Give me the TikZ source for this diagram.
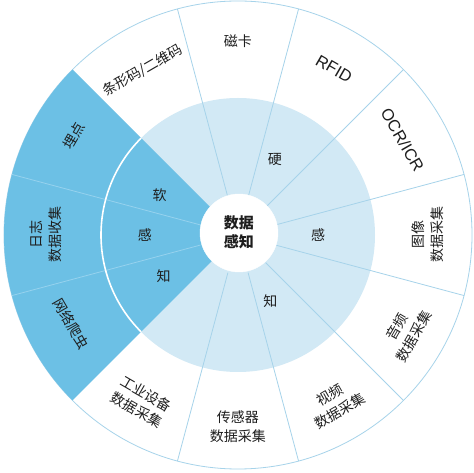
\documentclass[tikz,border=0pt]{standalone}
\usepackage{fontspec}
\setmainfont{Noto Sans CJK SC}
\newfontfamily\latinfont{Liberation Sans}
\usepackage{tikz}
\usetikzlibrary{calc}
\definecolor{skyblue}{RGB}{108, 192, 229}
\definecolor{paleblue}{RGB}{210, 233, 245}
\definecolor{lineblue}{RGB}{166, 211, 234}
\definecolor{softline}{RGB}{150, 210, 238}
\definecolor{textgray}{RGB}{30, 30, 30}
\tikzset{
    outerlabel/.style={text=textgray, font=\fontsize{14}{19}\selectfont, align=center, inner sep=0pt},
    latinlabel/.style={text=textgray, font=\latinfont\fontsize{16.5}{19}\selectfont, inner sep=0pt},
    innerlabel/.style={text=textgray, font=\fontsize{14}{17}\selectfont, inner sep=0pt},
    spoke/.style={color=lineblue, line width=0.8pt},
    softspoke/.style={color=softline, line width=0.8pt}
}
\begin{document}
\begin{tikzpicture}[x=1pt, y=1pt]
            \useasboundingbox (-238,-238) rectangle (236,235);
            \fill[white]                                    (-238,-238) rectangle (236,235);
            % outer ring
            \filldraw[color=lineblue, fill=white, line width=0.8pt] (0,0) circle (234);
            \fill[skyblue]                                  (0,0) -- (135:234) arc (135:225:234) -- cycle;
            % inner ring
            \fill[paleblue]                                 (0,0) circle (137);
            \fill[skyblue]                                  (0,0) -- (135:137) arc (135:225:137) -- cycle;
            % spokes
            \draw[spoke]                                    ( 15:39) -- ( 15:234);
            \draw[spoke]                                    ( 45:39) -- ( 45:234);
            \draw[spoke]                                    ( 75:39) -- ( 75:234);
            \draw[spoke]                                    (105:39) -- (105:234);
            \draw[spoke]                                    (255:39) -- (255:234);
            \draw[spoke]                                    (285:39) -- (285:234);
            \draw[spoke]                                    (315:39) -- (315:234);
            \draw[spoke]                                    (345:39) -- (345:234);
            \draw[softspoke]                                (165:39) -- (165:234);
            \draw[softspoke]                                (195:39) -- (195:234);
            \draw[color=white, line width=1.6pt]            (135:137) arc (135:225:137);
            % centre
            \filldraw[color=white, fill=white]              (1,2) circle (39);
            \node[text=textgray, font=\fontsize{15}{19}\selectfont\bfseries, align=center, inner sep=0pt]
                 (centre) at (1,3) {数据\\感知};
            % inner labels
            \node[innerlabel] (ying)  at ( 64:84) {硬};
            \node[innerlabel] (gan)   at (  0:80) {感};
            \node[innerlabel] (zhi)   at (-64:74) {知};
            \node[innerlabel] (ruan)  at (153:88) {软};
            \node[innerlabel] (gan2)  at (180:93) {感};
            \node[innerlabel] (zhi2)  at (209:85) {知};
            % outer labels
            \node[outerlabel, rotate=0]   (cika)       at ( 90:194) {磁卡};
            \node[latinlabel, rotate=-30] (rfid)       at ( 60:192) {RFID};
            \node[latinlabel, rotate=-60] (ocr)        at ( 30:190) {OCR/ICR};
            \node[outerlabel, rotate=90]  (tuxiang)    at (  0:190) {图像\\数据采集};
            \node[outerlabel, rotate=60]  (yinpin)     at (-30:193) {音频\\数据采集};
            \node[outerlabel, rotate=30]  (shipin)     at (-60:194) {视频\\数据采集};
            \node[outerlabel, rotate=0]   (chuangan)   at (-90:192) {传感器\\数据采集};
            \node[outerlabel, rotate=-30] (gongye)     at (240:193) {工业设备\\数据采集};
            \node[outerlabel, rotate=-60] (pachong)    at (208:189) {网络爬虫};
            \node[outerlabel, rotate=90]  (rizhi)      at (180:192) {日志\\数据收集};
            \node[outerlabel, rotate=60]  (maidian)    at (149:192) {埋点};
            \node[outerlabel, rotate=30]  (tiaoxing)   at (120:190) {条形码/二维码};
\end{tikzpicture}
\end{document}
